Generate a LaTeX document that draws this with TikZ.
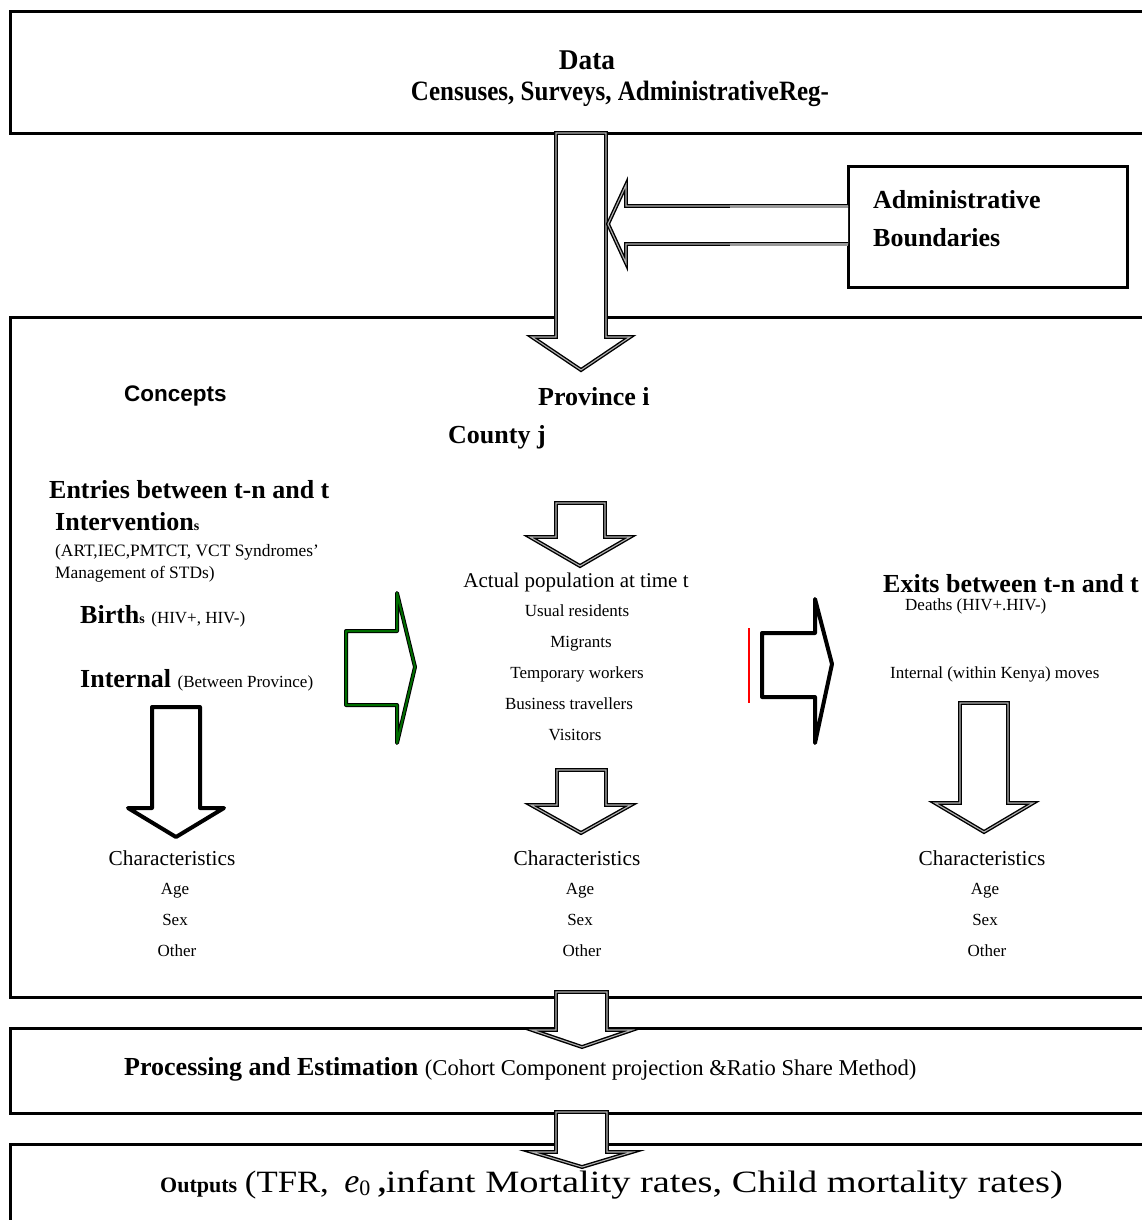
\documentclass[tikz,border=0pt]{standalone}
\usepackage{fontspec}
\setmainfont{Liberation Serif}
\newfontfamily\arialf{Liberation Sans}
\newcommand\fs[1]{\fontsize{#1}{#1}\selectfont}
\definecolor{dkgreen}{RGB}{0,110,0}
\begin{document}
\begin{tikzpicture}[x=1pt,y=-1pt,
  frame/.style={draw=black,line width=3pt},
  dblarrow/.style={draw=black,line width=1.4pt,double=gray!60,double distance=1.1pt,fill=white,line join=miter},
  thickarrow/.style={draw=black,line width=4pt,fill=white,line join=round},
  lt/.style={inner sep=0pt,anchor=base west},
  ct/.style={inner sep=0pt,anchor=base},
  hd/.style={lt,font=\bfseries\fs{26}},
  small/.style={ct,font=\fs{17}},
  tiny/.style={ct,font=\fs{17}},
  chr/.style={ct,font=\fs{21.3}}]
\useasboundingbox (0,0) rectangle (1142,1220);
\clip (0,0) rectangle (1142,1220);
% boxes
\draw[frame] (10,12) rectangle (1170,134);
\draw[frame] (848,166) rectangle (1127,287);
\draw[frame] (10,317) rectangle (1170,997);
\draw[frame] (10,1028) rectangle (1170,1113);
\draw[frame] (10,1144) rectangle (1170,1250);
% data box text
\node[ct,font=\bfseries\fs{26}] (data) at (587,70) {\scalebox{1.05}[1.1]{Data}};
\node[ct,font=\bfseries\fs{25}] (sources) at (620,101) {\scalebox{1}[1.12]{Censuses, Surveys, AdministrativeReg-}};
% admin boundaries
\node[hd] (adm1) at (873,208) {Administrative};
\node[hd] (adm2) at (873,246) {Boundaries};
% big arrows top
\draw[dblarrow] (556,133) -- (606,133) -- (606,337) -- (630,337) -- (581,370) -- (532,337) -- (556,337) -- cycle;
\draw[dblarrow] (848,206) -- (626,206) -- (626,185) -- (608,224) -- (626,263) -- (626,244) -- (848,244);
\draw[draw=gray!80,line width=3pt] (730,206) -- (848,206) (730,244) -- (848,244);
% main box heads
\node[lt,font=\arialf\bfseries\fs{22.5}] (concepts) at (124,401) {Concepts};
\node[hd] (prov) at (538,405) {Province i};
\node[hd] (county) at (448,443) {County j};
% left column
\node[hd] (entries) at (49,498) {Entries between t-n and t};
\node[hd] (interv) at (55,530) {Intervention{\fs{14}s}};
\node[lt,font=\fs{17.4}] (interv1) at (55,556) {(ART,IEC,PMTCT, VCT Syndromes'};
\node[lt,font=\fs{17.4}] (interv2) at (55,578) {Management of STDs)};
\node[hd] (births) at (80,623) {Birth{\fs{14}s} {\mdseries\fs{17}(HIV+, HIV-)}};
\node[hd] (internal) at (80,687) {Internal {\mdseries\fs{17}(Between Province)}};
% green arrow
\draw[draw=black,line width=4pt,line join=round] (346,631) -- (397,631) -- (397,593) -- (415,667) -- (397,743) -- (397,705) -- (346,705) -- cycle;
\draw[draw=dkgreen,line width=2pt,line join=round] (346,631) -- (397,631) -- (397,593) -- (415,667) -- (397,743) -- (397,705) -- (346,705) -- cycle;
% left down arrow
\draw[thickarrow] (152,707) -- (200,707) -- (200,808) -- (224,808) -- (176,837) -- (128,808) -- (152,808) -- cycle;
\node[chr] (chL) at (172,865) {Characteristics};
\node[tiny] (ageL) at (175,894) {Age};
\node[tiny] (sexL) at (175,925) {Sex};
\node[tiny] (othL) at (177,956) {Other};
% middle column
\draw[dblarrow] (556,503) -- (605,503) -- (605,537) -- (630,537) -- (580,566) -- (530,537) -- (556,537) -- cycle;
\node[ct,font=\fs{21}] (actual) at (576,587) {Actual population at time t};
\node[small] (usual) at (577,616) {Usual residents};
\node[small] (migr) at (581,647) {Migrants};
\node[small] (temp) at (577,678) {Temporary workers};
\node[small] (busi) at (569,709) {Business travellers};
\node[small] (visit) at (575,740) {Visitors};
\draw[dblarrow] (557,770) -- (606,770) -- (606,805) -- (631,805) -- (581,833) -- (531,805) -- (557,805) -- cycle;
\node[chr] (chM) at (577,865) {Characteristics};
\node[tiny] (ageM) at (580,894) {Age};
\node[tiny] (sexM) at (580,925) {Sex};
\node[tiny] (othM) at (582,956) {Other};
% red line and right arrow
\draw[red,line width=1.2pt] (749,628) -- (749,703);
\draw[thickarrow] (762,633) -- (815,633) -- (815,599) -- (832,664) -- (815,743) -- (815,697) -- (762,697) -- cycle;
% right column
\node[hd] (exits) at (883,592) {Exits between t-n and t};
\node[lt,font=\fs{17}] (deaths) at (905,610) {Deaths (HIV+.HIV-)};
\node[lt,font=\fs{17}] (intmov) at (890,678) {Internal (within Kenya) moves};
\draw[dblarrow] (960,703) -- (1008,703) -- (1008,803) -- (1033,803) -- (984,832) -- (935,803) -- (960,803) -- cycle;
\node[chr] (chR) at (982,865) {Characteristics};
\node[tiny] (ageR) at (985,894) {Age};
\node[tiny] (sexR) at (985,925) {Sex};
\node[tiny] (othR) at (987,956) {Other};
% bottom arrows
\draw[dblarrow] (556,992) -- (607,992) -- (607,1030) -- (632,1030) -- (582,1047) -- (532,1030) -- (556,1030) -- cycle;
\draw[dblarrow] (556,1112) -- (607,1112) -- (607,1152) -- (632,1152) -- (582,1167) -- (532,1152) -- (556,1152) -- cycle;
% processing and outputs
\node[hd] (proc) at (124,1075) {Processing and Estimation {\mdseries\fs{22.6}(Cohort Component projection \&Ratio Share Method)}};
\node[lt,font=\fs{31}] (outp) at (160,1192) {{\bfseries\fs{22}Outputs} \scalebox{1.12}[1]{(TFR,}\ \ {\fs{34}\itshape e}{\fs{22}\raisebox{-0.3ex}{0}}\ {\bfseries,}\scalebox{1.24}[1]{infant Mortality rates, Child mortality rates)}};
\end{tikzpicture}
\end{document}
